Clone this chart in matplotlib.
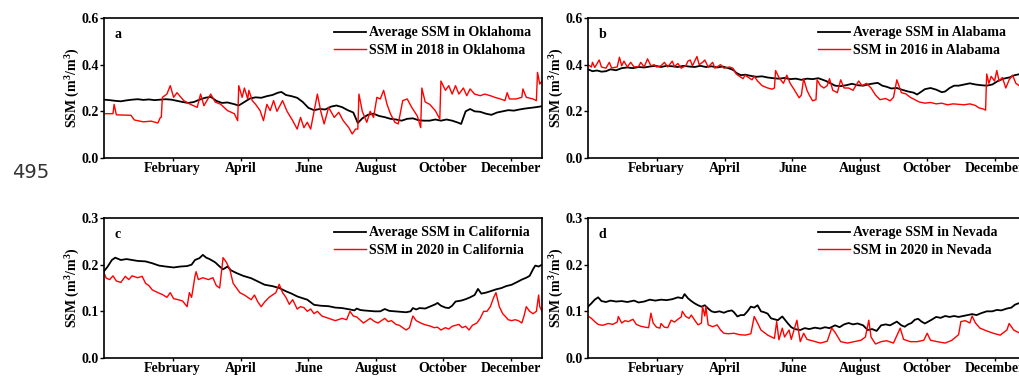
import numpy as np
import matplotlib
matplotlib.use("Agg")
import matplotlib.pyplot as plt

# ---------------- data (day of axis, SSM) ----------------
month_ticks = [61, 122, 182, 242, 302, 362]
month_labels = ["February", "April", "June", "August", "October", "December"]

# a: Oklahoma
ok_avg_days = [0,5,10,15,20,25,30,35,40,45,50,55,60,65,70,75,80,85,90,95,100,105,110,115,120,125,130,135,140,145,150,155,
               158,162,167,172,177,182,187,192,197,202,207,212,217,222,
               226,230,235,240,245,250,255,260,265,270,275,280,285,290,295,300,305,310,315,
               318,322,326,330,335,340,345,350,355,360,365,370,375,380,385,390]
ok_avg_ssm = [0.25,0.248,0.245,0.243,0.247,0.25,0.252,0.249,0.251,0.248,0.25,0.252,0.25,0.245,0.24,0.236,0.24,0.25,0.258,0.262,
              0.245,0.236,0.238,0.232,0.225,0.24,0.255,0.26,0.258,0.265,0.27,0.28,
              0.283,0.27,0.265,0.258,0.24,0.215,0.205,0.21,0.208,0.22,0.225,0.218,0.205,0.195,
              0.15,0.17,0.185,0.19,0.18,0.175,0.168,0.165,0.16,0.168,0.17,0.162,0.16,0.16,0.165,0.16,0.165,0.16,0.152,
              0.146,0.2,0.21,0.2,0.198,0.19,0.185,0.195,0.2,0.205,0.203,0.208,0.212,0.215,0.218,0.222]
ok_2018_days = [0,8,9,11,24,27,35,42,48,50,51,52,56,59,62,65,71,77,83,86,89,95,99,104,110,116,119,120,123,125,128,129,132,135,
                139,142,145,148,151,154,159,163,168,172,175,178,181,184,190,193,196,200,205,209,213,218,221,224,226,227,230,
                234,237,240,243,246,249,252,255,259,262,266,270,274,279,282,283,286,290,295,299,300,304,307,310,313,316,320,
                323,326,330,335,339,344,348,353,357,359,361,367,372,373,376,382,385,386,388,390]
ok_2018_ssm = [0.19,0.19,0.23,0.185,0.183,0.163,0.155,0.158,0.15,0.172,0.175,0.26,0.274,0.31,0.26,0.28,0.246,0.23,0.217,0.274,
               0.224,0.274,0.24,0.23,0.203,0.19,0.16,0.31,0.26,0.30,0.253,0.29,0.246,0.23,0.203,0.16,0.23,0.203,0.246,0.2,
               0.246,0.2,0.16,0.124,0.174,0.13,0.153,0.124,0.274,0.2,0.146,0.217,0.174,0.196,0.16,0.13,0.103,0.124,0.124,0.274,
               0.2,0.153,0.2,0.174,0.26,0.253,0.29,0.23,0.19,0.153,0.146,0.246,0.253,0.217,0.18,0.13,0.30,0.24,0.23,0.203,
               0.167,0.33,0.29,0.31,0.274,0.31,0.274,0.30,0.267,0.296,0.274,0.267,0.274,0.267,0.26,0.253,0.246,0.28,0.253,0.253,
               0.26,0.296,0.26,0.253,0.246,0.367,0.317,0.33]

# b: Alabama
al_avg_days = [0,4,8,12,16,20,25,30,35,40,45,50,55,60,65,70,75,80,85,90,95,100,105,110,115,120,125,128,130,132,136,
               140,145,150,155,160,165,170,175,180,185,190,195,200,205,208,212,216,220,225,230,235,240,245,250,255,
               258,262,266,270,275,280,285,290,293,297,300,305,310,315,318,322,326,330,335,340,345,350,355,360,365,
               370,375,380,385,390]
al_avg_ssm = [0.38,0.372,0.375,0.37,0.372,0.38,0.376,0.385,0.388,0.385,0.39,0.388,0.392,0.395,0.39,0.395,0.393,0.39,0.395,0.392,
              0.39,0.395,0.39,0.393,0.388,0.392,0.385,0.38,0.375,0.365,0.355,0.357,0.352,0.348,0.35,0.345,0.342,0.34,0.343,
              0.338,0.34,0.335,0.34,0.338,0.342,0.337,0.33,0.32,0.31,0.308,0.312,0.318,0.312,0.31,0.316,0.32,0.322,0.31,0.305,
              0.298,0.3,0.292,0.285,0.28,0.272,0.285,0.295,0.3,0.293,0.282,0.285,0.3,0.31,0.31,0.315,0.32,0.315,0.312,0.31,
              0.315,0.33,0.34,0.345,0.355,0.36,0.365]
al_2016_days = [0,3,4,6,10,12,16,19,21,26,28,30,32,35,38,41,45,47,50,53,56,59,61,65,68,71,75,77,80,83,87,89,91,93,97,99,
                102,104,107,111,113,118,121,126,129,132,135,138,140,143,146,148,151,155,160,164,166,167,170,174,177,180,
                184,188,190,192,195,197,200,203,204,207,210,213,215,218,222,225,228,232,236,241,244,248,252,256,260,265,
                269,272,275,279,283,287,291,295,300,305,310,315,320,325,330,335,340,345,348,352,354,355,357,359,362,364,
                366,369,372,375,378,381,384,390]
al_2016_ssm = [0.40,0.39,0.41,0.388,0.42,0.39,0.385,0.41,0.386,0.39,0.432,0.395,0.415,0.39,0.41,0.39,0.392,0.41,0.39,0.425,
               0.395,0.4,0.39,0.395,0.41,0.39,0.415,0.392,0.405,0.385,0.395,0.415,0.42,0.395,0.435,0.4,0.41,0.42,0.39,0.41,
               0.385,0.4,0.385,0.39,0.385,0.36,0.35,0.34,0.355,0.345,0.335,0.35,0.33,0.31,0.3,0.295,0.3,0.375,0.345,0.32,
               0.355,0.32,0.29,0.258,0.27,0.34,0.29,0.27,0.245,0.25,0.335,0.31,0.30,0.31,0.34,0.29,0.28,0.335,0.3,0.3,
               0.29,0.33,0.31,0.32,0.3,0.27,0.25,0.255,0.245,0.26,0.335,0.28,0.275,0.26,0.25,0.24,0.235,0.238,0.232,0.235,
               0.228,0.232,0.23,0.228,0.232,0.225,0.215,0.21,0.205,0.36,0.32,0.35,0.33,0.375,0.33,0.345,0.3,0.335,0.355,0.32,
               0.31,0.3]

# c: California
ca_avg_days = [0,3,7,10,15,20,25,30,37,43,49,55,62,68,74,78,81,85,88,91,94,99,103,106,110,113,118,124,131,137,
               143,150,156,162,167,172,177,181,187,193,200,206,212,219,223,225,228,231,236,241,246,250,254,259,264,
               269,273,275,278,281,286,291,295,297,300,304,307,310,313,318,322,326,330,333,336,340,344,349,354,358,
               363,368,372,376,379,382,384,387,390]
ca_avg_ssm = [0.186,0.195,0.21,0.215,0.21,0.212,0.21,0.208,0.207,0.203,0.198,0.196,0.194,0.196,0.197,0.2,0.21,0.214,0.221,0.215,
              0.212,0.205,0.196,0.19,0.196,0.188,0.182,0.176,0.171,0.164,0.157,0.154,0.15,0.143,0.138,0.132,0.128,0.125,0.114,
              0.112,0.111,0.108,0.107,0.104,0.102,0.106,0.103,0.102,0.101,0.1,0.1,0.105,0.101,0.1,0.099,0.098,0.1,0.107,0.104,
              0.107,0.106,0.111,0.115,0.118,0.112,0.108,0.107,0.112,0.121,0.123,0.126,0.13,0.135,0.148,0.138,0.14,0.143,0.147,
              0.15,0.154,0.157,0.163,0.168,0.172,0.176,0.19,0.198,0.196,0.2]
ca_2020_days = [0,2,5,8,11,15,19,22,25,30,34,37,40,43,48,52,56,59,62,66,70,74,76,78,81,82,84,88,93,97,100,103,106,109,112,
                115,118,121,125,128,131,134,137,140,143,147,150,153,156,159,162,165,168,172,175,178,181,184,187,190,194,
                200,206,212,216,219,222,225,231,234,237,241,244,247,250,253,256,260,263,266,269,272,275,278,282,285,288,
                291,294,297,300,304,307,310,313,316,319,322,325,328,332,335,338,341,344,347,349,352,355,357,360,363,366,
                369,372,374,376,379,382,385,387,388,390]
ca_2020_ssm = [0.182,0.171,0.168,0.176,0.165,0.162,0.175,0.168,0.176,0.172,0.175,0.16,0.155,0.146,0.14,0.136,0.13,0.14,0.127,0.125,
               0.122,0.11,0.14,0.13,0.175,0.185,0.168,0.172,0.168,0.172,0.155,0.15,0.215,0.205,0.19,0.16,0.15,0.14,0.135,0.13,
               0.125,0.135,0.12,0.11,0.12,0.13,0.135,0.14,0.158,0.14,0.13,0.115,0.125,0.105,0.11,0.108,0.1,0.105,0.095,0.1,
               0.09,0.085,0.08,0.085,0.082,0.1,0.09,0.088,0.075,0.08,0.085,0.078,0.075,0.08,0.085,0.078,0.08,0.072,0.07,0.065,
               0.06,0.065,0.09,0.08,0.075,0.072,0.07,0.068,0.065,0.066,0.06,0.065,0.062,0.068,0.07,0.072,0.065,0.068,0.06,0.07,
               0.075,0.085,0.1,0.1,0.11,0.13,0.14,0.11,0.095,0.09,0.082,0.08,0.082,0.08,0.075,0.09,0.11,0.1,0.095,0.1,
               0.135,0.11,0.1]

# d: Nevada
nv_avg_days = [0,3,6,9,12,16,20,25,30,35,41,45,50,55,60,65,70,75,80,84,86,89,92,95,98,101,104,107,110,113,
               117,121,124,128,130,133,136,139,142,145,148,151,154,157,160,163,166,169,173,176,178,181,184,189,193,
               197,202,207,211,215,220,224,228,232,236,240,245,249,253,257,261,265,269,272,275,279,282,285,288,291,
               294,297,300,303,306,310,314,318,322,326,330,334,338,342,346,350,355,360,364,368,373,377,380,383,390]
nv_avg_ssm = [0.11,0.117,0.125,0.13,0.122,0.12,0.123,0.121,0.122,0.12,0.123,0.119,0.121,0.125,0.123,0.125,0.124,0.126,0.13,0.128,
              0.137,0.128,0.122,0.117,0.113,0.11,0.113,0.106,0.1,0.098,0.1,0.097,0.1,0.102,0.098,0.089,0.092,0.092,0.1,0.11,
              0.108,0.113,0.1,0.098,0.095,0.085,0.083,0.081,0.089,0.08,0.074,0.066,0.062,0.06,0.064,0.062,0.065,0.063,0.066,0.064,
              0.07,0.066,0.072,0.075,0.072,0.074,0.07,0.06,0.062,0.058,0.07,0.072,0.07,0.074,0.078,0.07,0.067,0.072,0.075,0.082,
              0.084,0.078,0.074,0.078,0.082,0.088,0.086,0.09,0.088,0.09,0.088,0.09,0.092,0.094,0.092,0.096,0.1,0.1,0.103,0.102,
              0.106,0.108,0.114,0.117,0.118]
nv_2020_days = [0,3,6,9,13,18,22,26,27,30,33,36,40,43,47,51,54,56,58,61,64,65,68,71,74,77,80,83,84,87,90,92,95,98,101,
                102,104,105,107,111,115,118,121,125,130,135,140,145,148,151,154,160,166,168,170,173,175,179,181,186,
                189,192,195,201,207,213,217,220,225,231,237,243,247,250,252,256,261,266,272,278,281,287,293,299,302,
                305,311,318,324,330,332,336,340,342,345,349,355,361,367,373,375,379,383,390]
nv_2020_ssm = [0.09,0.085,0.078,0.072,0.07,0.074,0.072,0.077,0.089,0.075,0.08,0.078,0.083,0.072,0.068,0.066,0.065,0.096,0.075,0.066,
               0.064,0.074,0.066,0.065,0.081,0.077,0.083,0.088,0.1,0.089,0.085,0.092,0.081,0.071,0.075,0.11,0.09,0.11,0.071,0.067,
               0.071,0.06,0.053,0.052,0.053,0.05,0.049,0.052,0.089,0.075,0.06,0.049,0.042,0.078,0.039,0.064,0.045,0.06,0.04,0.081,
               0.035,0.053,0.04,0.036,0.032,0.036,0.064,0.055,0.035,0.032,0.035,0.038,0.045,0.081,0.045,0.03,0.035,0.037,0.032,0.064,
               0.04,0.035,0.035,0.038,0.053,0.038,0.035,0.032,0.038,0.05,0.078,0.08,0.075,0.09,0.075,0.064,0.058,0.053,0.049,0.06,
               0.074,0.06,0.055,0.05]

panel_letters = ["a", "b", "c", "d"]
legend_avg = ["Average SSM in Oklahoma", "Average SSM in Alabama", "Average SSM in California", "Average SSM in Nevada"]
legend_year = ["SSM in 2018 in Oklahoma", "SSM in 2016 in Alabama", "SSM in 2020 in California", "SSM in 2020 in Nevada"]
yticks_top = [0.0, 0.2, 0.4, 0.6]
yticks_bottom = [0.0, 0.1, 0.2, 0.3]

# ---------------- style ----------------
plt.rcParams["font.family"] = ["Liberation Serif", "DejaVu Serif"]
plt.rcParams["font.weight"] = "bold"
plt.rcParams["mathtext.fontset"] = "custom"
plt.rcParams["mathtext.rm"] = "Liberation Serif:bold"
plt.rcParams["mathtext.it"] = "Liberation Serif:bold"
plt.rcParams["mathtext.bf"] = "Liberation Serif:bold"

W, H = 1019, 376
fig = plt.figure(figsize=(W / 100, H / 100), dpi=100)


def axpos(left, top, w=438, h=140):
    return [left / W, (H - top - h) / H, w / W, h / H]


panels = [
    (axpos(104, 18), ok_avg_days, ok_avg_ssm, ok_2018_days, ok_2018_ssm, yticks_top),
    (axpos(588, 18), al_avg_days, al_avg_ssm, al_2016_days, al_2016_ssm, yticks_top),
    (axpos(104, 218), ca_avg_days, ca_avg_ssm, ca_2020_days, ca_2020_ssm, yticks_bottom),
    (axpos(588, 218), nv_avg_days, nv_avg_ssm, nv_2020_days, nv_2020_ssm, yticks_bottom),
]

for i, (pos, ad, av, yd, yv, yt) in enumerate(panels):
    ax = fig.add_axes(pos)
    ax.plot(ad, av, color="black", lw=1.3, label=legend_avg[i])
    ax.plot(yd, yv, color="#ff0000", lw=1.0, label=legend_year[i])
    ax.set_xlim(0, 390)
    ax.set_ylim(yt[0], yt[-1])
    ax.set_yticks(yt)
    ax.set_yticklabels([f"{v:.1f}" for v in yt])
    ax.set_xticks(month_ticks)
    ax.set_xticklabels(month_labels)
    ax.tick_params(axis="y", direction="out", length=3, width=1, labelsize=10, pad=1)
    ax.tick_params(axis="x", direction="out", length=2.5, width=1, labelsize=10, pad=0.5)
    for s in ax.spines.values():
        s.set_linewidth(1.2)
    ax.set_ylabel(r"SSM (m$^3$/m$^3$)", fontsize=10, fontweight="bold", labelpad=-0.5)
    ax.text(0.025, 0.885, panel_letters[i], transform=ax.transAxes, fontsize=10,
            fontweight="bold", va="center", ha="left")
    ax.legend(loc="upper left", bbox_to_anchor=(0.525, 0.94), frameon=False,
              handlelength=2.3, handletextpad=0.25, labelspacing=0.3,
              borderpad=0, borderaxespad=0, prop={"weight": "bold", "size": 10})

fig.text(12 / W, 1 - 173 / H, "495", fontsize=14, family="DejaVu Sans", fontweight="normal",
         color="#333333", va="center", ha="left")

fig.savefig("out.png", dpi=100)
